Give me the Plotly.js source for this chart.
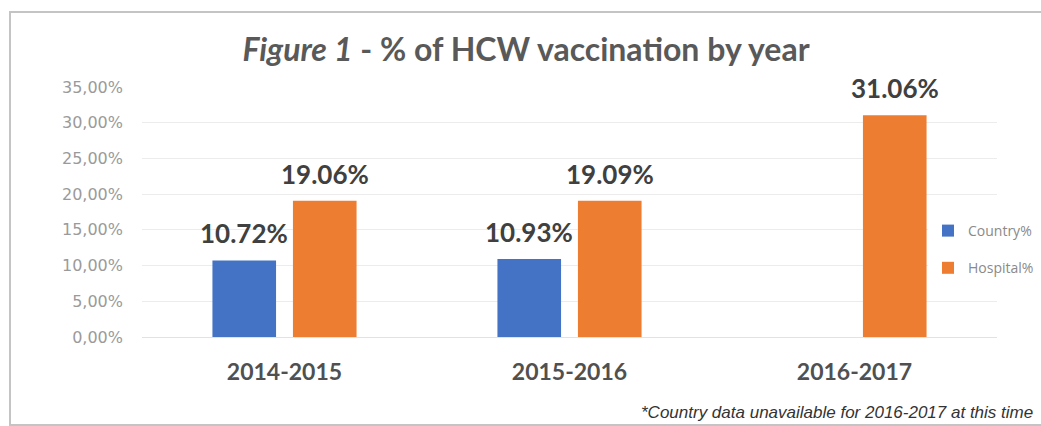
<!DOCTYPE html>
<html>
<head>
<meta charset="utf-8">
<script src="https://cdn.plot.ly/plotly-3.0.1.min.js"></script>
<style>
  html, body { margin: 0; padding: 0; background: #fff; }
  #wrap { position: relative; width: 1041px; height: 426px; overflow: hidden; }
  #chart { position: absolute; left: 0; top: 0; width: 1041px; height: 426px; }
  #frame { position: absolute; left: 9px; top: 11px; width: 1060px; height: 411px;
           border: 2px solid #c4c4c4; pointer-events: none; }
</style>
</head>
<body>
<div id="wrap">
  <div id="chart"></div>
  <div id="frame"></div>
</div>
<script>
// ---- data ----
const categories = ["2014-2015", "2015-2016", "2016-2017"];
const countryPct = [10.72, 10.93, null];
const hospitalPct = [19.06, 19.09, 31.06];
const seriesNames = ["Country%", "Hospital%"];
const yTickVals = [0, 5, 10, 15, 20, 25, 30, 35];
const yTickText = ["0,00%", "5,00%", "10,00%", "15,00%", "20,00%", "25,00%", "30,00%", "35,00%"];
const titleText = "<i>Figure 1</i> - % of HCW vaccination by year";
const footnote = "*Country data unavailable for 2016-2017 at this time";

// ---- style ----
const colors = ["#4472C4", "#ED7D31"];
const W = 1041, H = 426;
const margin = { l: 142, r: 44, t: 87, b: 89, autoexpand: false };
const bargap = 0.435;
const bargroupgap = 0.21;

const series = [countryPct, hospitalPct];
const traces = series.map((vals, i) => ({
  type: "bar",
  name: seriesNames[i],
  x: categories,
  y: vals,
  marker: { color: colors[i] },
  legendgroup: "g" + i,
  hoverinfo: "skip"
}));

// data labels as annotations positioned via data coordinates
const plotW = W - margin.l - margin.r;
const plotH = H - margin.t - margin.b;
const catW = plotW / categories.length;
const slot = catW * (1 - bargap) / series.length;
const annotations = [];
series.forEach((vals, i) => {
  vals.forEach((v, j) => {
    if (v === null) return;
    annotations.push({
      x: categories[j], y: v, xref: "x", yref: "y",
      xshift: (i - (series.length - 1) / 2) * slot,
      yshift: 9,
      yanchor: "bottom", xanchor: "center",
      text: v.toFixed(2) + "%",
      showarrow: false,
      font: { family: "Lato, sans-serif", size: 26, color: "#404040", weight: "bold" }
    });
  });
});
annotations.push({
  xref: "paper", yref: "paper",
  x: (W - 6 - margin.l) / plotW, y: -(412 - (H - margin.b)) / plotH,
  xanchor: "right", yanchor: "middle",
  text: "<i>" + footnote + "</i>",
  showarrow: false,
  font: { family: "Liberation Sans, Arial, sans-serif", size: 17, color: "#333333" }
});

const layout = {
  width: W, height: H,
  margin: margin,
  paper_bgcolor: "rgba(0,0,0,0)",
  plot_bgcolor: "#ffffff",
  barmode: "group",
  bargap: bargap,
  bargroupgap: bargroupgap,
  title: {
    text: titleText,
    x: 526 / W, xref: "container", xanchor: "center",
    y: 1 - 50 / H, yref: "container", yanchor: "middle",
    font: { family: "Lato, sans-serif", size: 32, color: "#595959", weight: "bold" }
  },
  xaxis: {
    type: "category",
    range: [-0.5, 2.5],
    showgrid: false, zeroline: false, showline: false,
    ticks: "", ticklabelstandoff: 19,
    tickfont: { family: "Lato, sans-serif", size: 23, color: "#505050", weight: "bold" }
  },
  yaxis: {
    range: [0, 35],
    tickvals: yTickVals, ticktext: yTickText,
    showgrid: true, gridcolor: "#ececec", gridwidth: 1,
    zeroline: true, zerolinecolor: "#e2e2e2", zerolinewidth: 1,
    showline: false, ticks: "", ticklabelstandoff: 18,
    tickfont: { family: "DejaVu Sans, sans-serif", size: 16, color: "#9a9a9a" }
  },
  showlegend: true,
  legend: {
    x: (928 - margin.l) / plotW, xanchor: "left",
    y: 1 - (215 - margin.t) / plotH, yanchor: "top",
    bgcolor: "#ffffff",
    tracegroupgap: 16,
    itemwidth: 30,
    font: { family: "Open Sans, sans-serif", size: 14, color: "#8a8a8a" }
  },
  annotations: annotations
};

Plotly.newPlot("chart", traces, layout, { displayModeBar: false, staticPlot: true });
</script>
</body>
</html>
